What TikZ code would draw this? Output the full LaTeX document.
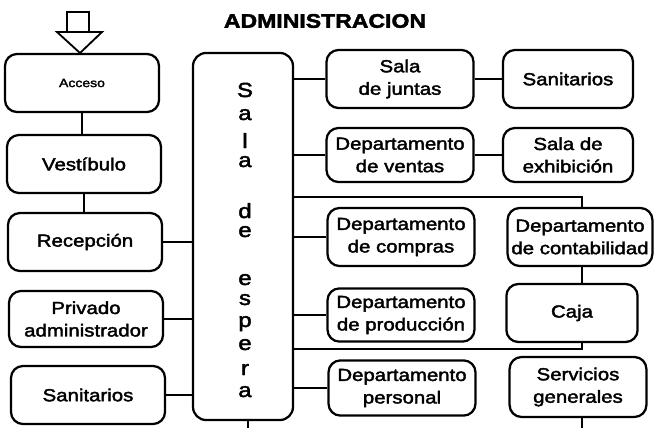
\documentclass[tikz,border=0pt]{standalone}
\usepackage{fontspec}
\setmainfont{Liberation Sans}[FakeStretch=1.17,FakeBold=2.2]
\usetikzlibrary{positioning}
\tikzset{
  room/.style={draw,line width=1.6pt,rounded corners=0.3cm,minimum width=#1,
    minimum height=1.45cm,inner sep=1pt,align=center,
    font=\fontsize{12.4}{16}\selectfont},
  room/.default=3.85cm,
  link/.style={line width=1.3pt},
  letter/.style={anchor=base,inner sep=0pt,font=\fontsize{14.5}{16}\selectfont},
}

\begin{document}
\begin{tikzpicture}[x=0.025cm,y=-0.025cm]
  \useasboundingbox (0,0) rectangle (660,428);
  % entrance arrow
  \draw[link] (67,12) rectangle (89,32);
  \draw[link,fill=white] (57,32) -- (102,32) -- (80,53) -- cycle;
  \node[font=\fontsize{14}{16}\selectfont\bfseries] (title) at (325,21) {ADMINISTRACION};

  % left column
  \node[room,font=\fontsize{8.5}{10}\selectfont] (acceso) at (82,83) {Acceso};
  \node[room] (vest) at (84,164) {Vestíbulo};
  \node[room] (recep) at (85,242) {Recepción};
  \node[room,minimum height=1.4cm] (priv) at (86,319) {Privado\\administrador};
  \node[room] (sanL) at (88,395) {Sanitarios};

  % waiting room
  \node[draw,line width=1.6pt,rounded corners=0.33cm,minimum width=2.5cm,
    minimum height=9.175cm] (sala) at (243,236.5) {};
  \foreach \l/\y [count=\i] in {S/97,a/120,l/148,a/167,d/218,e/237,
      e/285,s/305,p/327,e/350,r/375,a/397}
    \node[letter] (let\i) at (245,\y) {\l};

  % middle column
  \node[room=3.675cm] (juntas) at (400,79) {Sala\\de juntas};
  \node[room=3.675cm,minimum height=1.35cm] (ventas) at (400,155) {Departamento\\de ventas};
  \node[room=3.675cm] (compras) at (401,237) {Departamento\\de compras};
  \node[room=3.675cm,minimum height=1.33cm] (prod) at (401,315) {Departamento\\de producción};
  \node[room=3.675cm,minimum height=1.38cm] (pers) at (402,388) {Departamento\\personal};

  % right column
  \node[room=3.25cm] (sanR) at (568,79) {Sanitarios};
  \node[room=3.25cm,minimum height=1.35cm] (exhib) at (568,155) {Sala de\\exhibición};
  \node[room=3.62cm] (contab) at (580,237) {Departamento\\de contabilidad};
  \node[room=3.28cm] (caja) at (572,313) {Caja};
  \node[room=3.42cm,minimum height=1.5cm] (serv) at (578,387) {Servicios\\generales};

  \coordinate (kA) at (582,197);
  \coordinate (kB) at (582,349);
  \coordinate (kC) at (582,428);
  \coordinate (kD) at (248,428);

  % connectors
  \draw[link] (acceso.south) -- (acceso.south |- vest.north);
  \draw[link] (vest.south) -- (vest.south |- recep.north);
  \foreach \n in {recep,priv,sanL}
    \draw[link] (\n.east) -- (\n.east -| sala.west);
  \foreach \n in {juntas,ventas,compras,prod,pers}
    \draw[link] (sala.east |- \n.west) -- (\n.west);
  \draw[link] (juntas.east) -- (sanR.west);
  \draw[link] (ventas.east) -- (exhib.west);
  \draw[link] (sala.east |- kA) -- (kA) -- (kA |- contab.north);
  \draw[link] (kA |- contab.south) -- (kA |- caja.north);
  \draw[link] (sala.east |- kB) -- (kB) -- (kB |- caja.south);
  \draw[link] (kC |- serv.south) -- (kC);
  \draw[link] (kD |- sala.south) -- (kD);
\end{tikzpicture}
\end{document}
